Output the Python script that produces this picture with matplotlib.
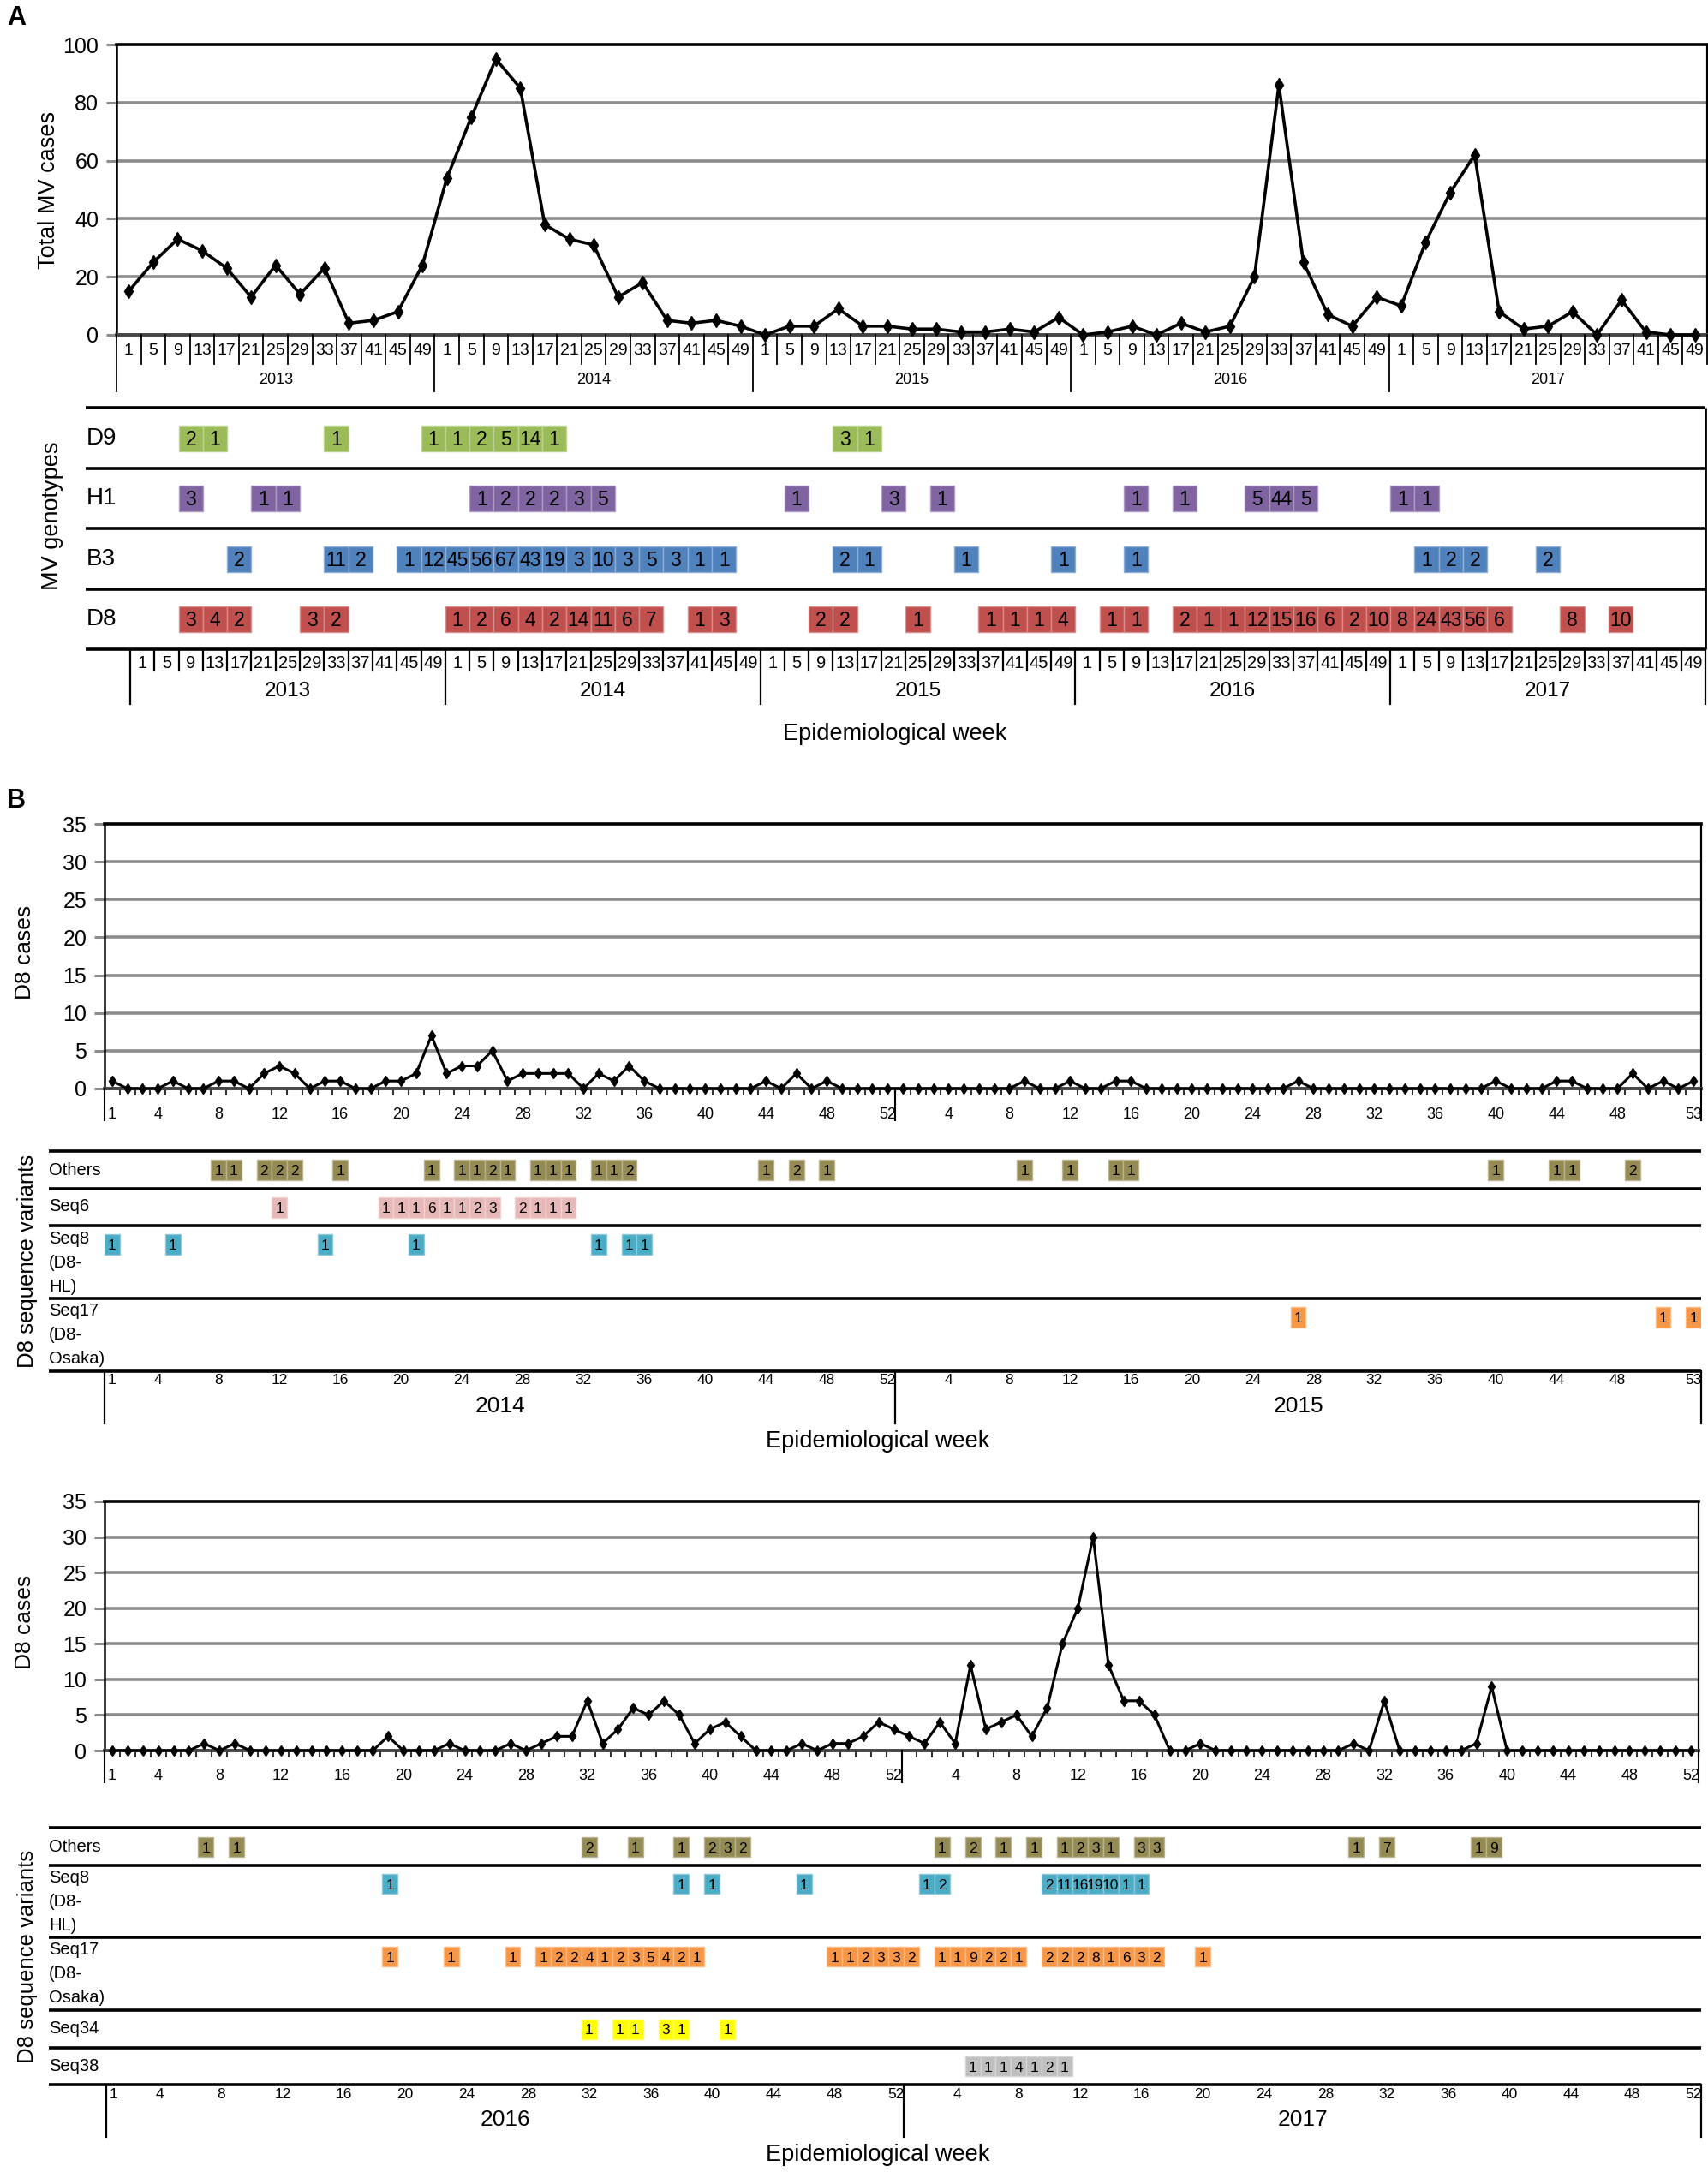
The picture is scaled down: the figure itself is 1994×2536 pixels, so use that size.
import numpy as np
import matplotlib
matplotlib.use("Agg")
import matplotlib.pyplot as plt
from matplotlib.patches import Rectangle
from matplotlib.lines import Line2D
from matplotlib.colors import to_rgb

plt.rcParams['font.family'] = ['Liberation Sans', 'DejaVu Sans']
NARROW = ['Liberation Sans Narrow', 'Liberation Sans', 'DejaVu Sans']

# ---------------- Panel A data ----------------
years_A = [2013, 2014, 2015, 2016, 2017]
weeks_A = [1, 5, 9, 13, 17, 21, 25, 29, 33, 37, 41, 45, 49]
total_2013 = [15, 25, 33, 29, 23, 13, 24, 14, 23, 4, 5, 8, 24]
total_2014 = [54, 75, 95, 85, 38, 33, 31, 13, 18, 5, 4, 5, 3]
total_2015 = [0, 3, 3, 9, 3, 3, 2, 2, 1, 1, 2, 1, 6]
total_2016 = [0, 1, 3, 0, 4, 1, 3, 20, 86, 25, 7, 3, 13]
total_2017 = [10, 32, 49, 62, 8, 2, 3, 8, 0, 12, 1, 0, 0]

genotype_names = ['D9', 'H1', 'B3', 'D8']
genotype_colors = ['#9BBB59', '#8064A2', '#4F81BD', '#C0504D']
# (year, week, number of cases)
gt_d9 = [(2013, 9, 2), (2013, 13, 1), (2013, 33, 1), (2013, 49, 1), (2014, 1, 1), (2014, 5, 2),
         (2014, 9, 5), (2014, 13, 14), (2014, 17, 1), (2015, 13, 3), (2015, 17, 1)]
gt_h1 = [(2013, 9, 3), (2013, 21, 1), (2013, 25, 1), (2014, 5, 1), (2014, 9, 2), (2014, 13, 2),
         (2014, 17, 2), (2014, 21, 3), (2014, 25, 5), (2015, 5, 1), (2015, 21, 3), (2015, 29, 1),
         (2016, 9, 1), (2016, 17, 1), (2016, 29, 5), (2016, 33, 44), (2016, 37, 5), (2017, 1, 1),
         (2017, 5, 1)]
gt_b3 = [(2013, 17, 2), (2013, 33, 11), (2013, 37, 2), (2013, 45, 1), (2013, 49, 12), (2014, 1, 45),
         (2014, 5, 56), (2014, 9, 67), (2014, 13, 43), (2014, 17, 19), (2014, 21, 3), (2014, 25, 10),
         (2014, 29, 3), (2014, 33, 5), (2014, 37, 3), (2014, 41, 1), (2014, 45, 1), (2015, 13, 2),
         (2015, 17, 1), (2015, 33, 1), (2015, 49, 1), (2016, 9, 1), (2017, 5, 1), (2017, 9, 2),
         (2017, 13, 2), (2017, 25, 2)]
gt_d8 = [(2013, 9, 3), (2013, 13, 4), (2013, 17, 2), (2013, 29, 3), (2013, 33, 2), (2014, 1, 1),
         (2014, 5, 2), (2014, 9, 6), (2014, 13, 4), (2014, 17, 2), (2014, 21, 14), (2014, 25, 11),
         (2014, 29, 6), (2014, 33, 7), (2014, 41, 1), (2014, 45, 3), (2015, 9, 2), (2015, 13, 2),
         (2015, 25, 1), (2015, 37, 1), (2015, 41, 1), (2015, 45, 1), (2015, 49, 4), (2016, 5, 1),
         (2016, 9, 1), (2016, 17, 2), (2016, 21, 1), (2016, 25, 1), (2016, 29, 12), (2016, 33, 15),
         (2016, 37, 16), (2016, 41, 6), (2016, 45, 2), (2016, 49, 10), (2017, 1, 8), (2017, 5, 24),
         (2017, 9, 43), (2017, 13, 56), (2017, 17, 6), (2017, 29, 8), (2017, 37, 10)]

# ---------------- Panel B data ----------------
b1_years = [2014, 2015]
b1_year_weeks = [52, 53]
d8_2014 = [1, 0, 0, 0, 1, 0, 0, 1, 1, 0, 2, 3, 2, 0, 1, 1, 0, 0, 1, 1,
           2, 7, 2, 3, 3, 5, 1, 2, 2, 2, 2, 0, 2, 1, 3, 1, 0, 0, 0, 0,
           0, 0, 0, 1, 0, 2, 0, 1, 0, 0, 0, 0]
d8_2015 = [0, 0, 0, 0, 0, 0, 0, 0, 1, 0, 0, 1, 0, 0, 1, 1, 0, 0, 0, 0,
           0, 0, 0, 0, 0, 0, 1, 0, 0, 0, 0, 0, 0, 0, 0, 0, 0, 0, 0, 1,
           0, 0, 0, 1, 1, 0, 0, 0, 2, 0, 1, 0, 1]
b1_ticks = [[1, 4, 8, 12, 16, 20, 24, 28, 32, 36, 40, 44, 48, 52],
            [4, 8, 12, 16, 20, 24, 28, 32, 36, 40, 44, 48, 53]]
b1_others = [(2014, 8, 1), (2014, 9, 1), (2014, 11, 2), (2014, 12, 2), (2014, 13, 2), (2014, 16, 1),
             (2014, 22, 1), (2014, 24, 1), (2014, 25, 1), (2014, 26, 2), (2014, 27, 1), (2014, 29, 1),
             (2014, 30, 1), (2014, 31, 1), (2014, 33, 1), (2014, 34, 1), (2014, 35, 2), (2014, 44, 1),
             (2014, 46, 2), (2014, 48, 1), (2015, 9, 1), (2015, 12, 1), (2015, 15, 1), (2015, 16, 1),
             (2015, 40, 1), (2015, 44, 1), (2015, 45, 1), (2015, 49, 2)]
b1_seq6 = [(2014, 12, 1), (2014, 19, 1), (2014, 20, 1), (2014, 21, 1), (2014, 22, 6), (2014, 23, 1),
           (2014, 24, 1), (2014, 25, 2), (2014, 26, 3), (2014, 28, 2), (2014, 29, 1), (2014, 30, 1),
           (2014, 31, 1)]
b1_seq8 = [(2014, 1, 1), (2014, 5, 1), (2014, 15, 1), (2014, 21, 1), (2014, 33, 1), (2014, 35, 1),
           (2014, 36, 1)]
b1_seq17 = [(2015, 27, 1), (2015, 51, 1), (2015, 53, 1)]

b2_years = [2016, 2017]
b2_year_weeks = [52, 52]
d8_2016 = [0, 0, 0, 0, 0, 0, 1, 0, 1, 0, 0, 0, 0, 0, 0, 0, 0, 0, 2, 0,
           0, 0, 1, 0, 0, 0, 1, 0, 1, 2, 2, 7, 1, 3, 6, 5, 7, 5, 1, 3,
           4, 2, 0, 0, 0, 1, 0, 1, 1, 2, 4, 3]
d8_2017 = [2, 1, 4, 1, 12, 3, 4, 5, 2, 6, 15, 20, 30, 12, 7, 7, 5, 0, 0, 1,
           0, 0, 0, 0, 0, 0, 0, 0, 0, 1, 0, 7, 0, 0, 0, 0, 0, 1, 9, 0,
           0, 0, 0, 0, 0, 0, 0, 0, 0, 0, 0, 0]
b2_ticks = [[1, 4, 8, 12, 16, 20, 24, 28, 32, 36, 40, 44, 48, 52],
            [4, 8, 12, 16, 20, 24, 28, 32, 36, 40, 44, 48, 52]]
b2_others = [(2016, 7, 1), (2016, 9, 1), (2016, 32, 2), (2016, 35, 1), (2016, 38, 1), (2016, 40, 2),
             (2016, 41, 3), (2016, 42, 2), (2017, 3, 1), (2017, 5, 2), (2017, 7, 1), (2017, 9, 1),
             (2017, 11, 1), (2017, 12, 2), (2017, 13, 3), (2017, 14, 1), (2017, 16, 3), (2017, 17, 3),
             (2017, 30, 1), (2017, 32, 7), (2017, 38, 1), (2017, 39, 9)]
b2_seq8 = [(2016, 19, 1), (2016, 38, 1), (2016, 40, 1), (2016, 46, 1), (2017, 2, 1), (2017, 3, 2),
           (2017, 10, 2), (2017, 11, 11), (2017, 12, 16), (2017, 13, 19), (2017, 14, 10), (2017, 15, 1),
           (2017, 16, 1)]
b2_seq17 = [(2016, 19, 1), (2016, 23, 1), (2016, 27, 1), (2016, 29, 1), (2016, 30, 2), (2016, 31, 2),
            (2016, 32, 4), (2016, 33, 1), (2016, 34, 2), (2016, 35, 3), (2016, 36, 5), (2016, 37, 4),
            (2016, 38, 2), (2016, 39, 1), (2016, 48, 1), (2016, 49, 1), (2016, 50, 2), (2016, 51, 3),
            (2016, 52, 3), (2017, 1, 2), (2017, 3, 1), (2017, 4, 1), (2017, 5, 9), (2017, 6, 2),
            (2017, 7, 2), (2017, 8, 1), (2017, 10, 2), (2017, 11, 2), (2017, 12, 2), (2017, 13, 8),
            (2017, 14, 1), (2017, 15, 6), (2017, 16, 3), (2017, 17, 2), (2017, 20, 1)]
b2_seq34 = [(2016, 32, 1), (2016, 34, 1), (2016, 35, 1), (2016, 37, 3), (2016, 38, 1), (2016, 41, 1)]
b2_seq38 = [(2017, 5, 1), (2017, 6, 1), (2017, 7, 1), (2017, 8, 4), (2017, 9, 1), (2017, 10, 2),
            (2017, 11, 1)]

variant_colors = {'Others': '#948A54', 'Seq6': '#E6B9B8', 'Seq8': '#4BACC6',
                  'Seq17': '#F79646', 'Seq34': '#FFFF00', 'Seq38': '#BFBFBF'}

# ---------------- Figure helpers ----------------
W, H = 1994, 2536
fig = plt.figure(figsize=(W / 100, H / 100), dpi=100)


def px_axes(x0, y0, x1, y1):
    return fig.add_axes([x0 / W, 1 - y1 / H, (x1 - x0) / W, (y1 - y0) / H])


def fline(x0, y0, x1, y1, lw=2.4, color='black'):
    fig.add_artist(Line2D([x0 / W, x1 / W], [1 - y0 / H, 1 - y1 / H], transform=fig.transFigure,
                          lw=lw, color=color, solid_capstyle='butt'))


def ftext(x, y, s, **kw):
    fig.text(x / W, 1 - y / H, s, **kw)


def lighten(c, f=0.35):
    r, g, b = to_rgb(c)
    return (r + (1 - r) * f, g + (1 - g) * f, b + (1 - b) * f)


def draw_cells(ax, idxs, counts, color, yc, h, fs):
    cap = 0.72 * fs * 100 / 72
    for i, c in zip(idxs, counts):
        ax.add_patch(Rectangle((i - 0.5, yc - h / 2), 1, h, facecolor=color,
                               edgecolor=lighten(color), lw=1.0, zorder=2))
        ax.text(i, yc + cap / 2, str(c), ha='center', va='baseline', fontsize=fs,
                family=NARROW, zorder=3)


def line_chart(ax, values, ymax, ystep, lw, ms, small_ticks):
    n = len(values)
    ax.set_xlim(-0.5, n - 0.5)
    ax.set_ylim(0, ymax)
    for yv in np.arange(ystep, ymax, ystep):
        ax.axhline(yv, color='#8c8c8c', lw=2.6, zorder=1)
    ax.plot(np.arange(n), values, color='black', lw=lw, marker='d', ms=ms,
            markeredgewidth=1, zorder=3, clip_on=False)
    ax.set_yticks(np.arange(0, ymax + 1, ystep))
    ax.tick_params(axis='y', length=9, width=2.2, color='#8c8c8c', labelsize=18, pad=6)
    if small_ticks:
        ax.set_xticks(np.arange(-0.5, n, 1))
        ax.tick_params(axis='x', length=6, width=1.5, color='#333333', labelbottom=False)
    else:
        ax.set_xticks([])
    ax.spines['top'].set_linewidth(2.6)
    ax.spines['left'].set_linewidth(1.8)
    ax.spines['right'].set_linewidth(1.6)
    ax.spines['bottom'].set_linewidth(2.8)
    ax.spines['bottom'].set_color('#444444')
    ax.set_facecolor('none')


# ================= Panel A =================
ftext(8, 6, 'A', fontsize=22, weight='bold', ha='left', va='top')

total_mv = total_2013 + total_2014 + total_2015 + total_2016 + total_2017
axA = px_axes(136, 52, 1993, 391)
line_chart(axA, total_mv, 100, 20, 2.6, 8, False)
ftext(57, 222, 'Total MV cases', rotation=90, fontsize=19.5, ha='center', va='center')

nA = len(years_A) * len(weeks_A)
axAs = px_axes(136, 391, 1993, 460)
axAs.set_xlim(-0.5, nA - 0.5)
axAs.set_ylim(460, 391)
axAs.axis('off')
for i in range(nA + 1):
    bot = 457 if (i % len(weeks_A) == 0 and i < nA) else 425
    axAs.plot([i - 0.5, i - 0.5], [391, bot], color='black', lw=1.3, clip_on=False)
for yi, yr in enumerate(years_A):
    for wi, wk in enumerate(weeks_A):
        axAs.text(yi * len(weeks_A) + wi, 410, str(wk), ha='center', va='center',
                  fontsize=14, family=NARROW)
    axAs.text(yi * len(weeks_A) + (len(weeks_A) - 1) / 2, 443, str(yr), ha='center',
              va='center', fontsize=13, family=NARROW)


def idx_A(year, week):
    return years_A.index(year) * len(weeks_A) + weeks_A.index(week)


axG = px_axes(152, 476, 1991, 870)
axG.set_xlim(-0.5, nA - 0.5)
axG.set_ylim(870, 476)
axG.axis('off')
for yline in [476, 547, 617, 688, 758]:
    fline(100, yline, 1991, yline, lw=2.6)
fline(1991, 476, 1991, 758, lw=2.0)
row_centers_G = [512, 582, 652.5, 723]
for name, col, data, yc in zip(genotype_names, genotype_colors, [gt_d9, gt_h1, gt_b3, gt_d8],
                               row_centers_G):
    ftext(101, yc, name, fontsize=20, ha='left', va='center')
    draw_cells(axG, [idx_A(y, w) for y, w, c in data], [c for y, w, c in data], col, yc, 30, 16.5)
for i in range(nA + 1):
    bot = 822 if i % len(weeks_A) == 0 else 783
    axG.plot([i - 0.5, i - 0.5], [758, bot], color='black', lw=1.6, clip_on=False)
for yi, yr in enumerate(years_A):
    for wi, wk in enumerate(weeks_A):
        axG.text(yi * len(weeks_A) + wi, 774, str(wk), ha='center', va='center',
                 fontsize=14.5, family=NARROW)
    axG.text(yi * len(weeks_A) + (len(weeks_A) - 1) / 2, 807, str(yr), ha='center',
             va='center', fontsize=17.5, family=NARROW)
ftext(1045, 857, 'Epidemiological week', fontsize=19.5, ha='center', va='center')
ftext(61, 602, 'MV genotypes', rotation=90, fontsize=19.5, ha='center', va='center')

# ================= Panel B =================
ftext(8, 920, 'B', fontsize=22, weight='bold', ha='left', va='top')


def idx_B(years, year_weeks, year, week):
    yi = years.index(year)
    return sum(year_weeks[:yi]) + week - 1


def b_block(values, years, year_weeks, ticks, rows, geo):
    n = len(values)
    # line chart
    ax = px_axes(*geo['line'])
    line_chart(ax, values, 35, 5, 2.2, 6.5, True)
    ftext(29, (geo['line'][1] + geo['line'][3]) / 2 - 5, 'D8 cases', rotation=90, fontsize=19,
          ha='center', va='center')
    # line chart week labels
    s0, s1 = geo['line'][3], geo['line'][3] + 60
    axs = px_axes(geo['line'][0], s0, geo['line'][2], s1)
    axs.set_xlim(-0.5, n - 0.5)
    axs.set_ylim(s1, s0)
    axs.axis('off')
    bounds = [-0.5] + list(np.cumsum(year_weeks) - 0.5)
    for b in bounds:
        axs.plot([b, b], [s0, s0 + 37], color='black', lw=1.5, clip_on=False)
    off = 0
    for labs, nw in zip(ticks, year_weeks):
        for w in labs:
            axs.text(off + w - 1, s0 + 30, str(w), ha='center', va='center', fontsize=13)
        off += nw
    # variant rows
    vx0, vtop, vx1, vbot = geo['var']
    axv = px_axes(vx0, vtop, vx1, vbot + 110)
    axv.set_xlim(-0.5, n - 0.5)
    axv.set_ylim(vbot + 110, vtop)
    axv.axis('off')
    for yline in geo['row_lines']:
        fline(57, yline, vx1, yline, lw=2.6)
    for (name, data), yc, lab_lines, lab_ys in zip(rows, geo['cell_y'], geo['labels'],
                                                   geo['label_y']):
        for t, ly in zip(lab_lines, lab_ys):
            ftext(57, ly, t, fontsize=14.5, ha='left', va='center')
        draw_cells(axv, [idx_B(years, year_weeks, y, w) for y, w, c in data],
                   [c for y, w, c in data], variant_colors[name], yc, geo['cell_h'], 12.5)
    for b in bounds:
        axv.plot([b, b], [vbot, vbot + 61], color='black', lw=1.6, clip_on=False)
    off = 0
    for labs, nw, yr in zip(ticks, year_weeks, years):
        for w in labs:
            axv.text(off + w - 1, vbot + 11, str(w), ha='center', va='center', fontsize=12.5,
                     family=NARROW)
        axv.text(off + (nw - 1) / 2, vbot + 41, str(yr), ha='center', va='center', fontsize=19,
                 family=NARROW)
        off += nw
    ftext(32, (geo['row_lines'][0] + geo['row_lines'][-1]) / 2, 'D8 sequence variants',
          rotation=90, fontsize=18.5, ha='center', va='center')
    ftext(1025, vbot + 82, 'Epidemiological week', fontsize=19.5, ha='center', va='center')


geo_b1 = dict(line=(122, 962, 1986, 1271), var=(122, 1344, 1986, 1601),
              row_lines=[1344, 1388, 1431, 1516, 1601], cell_y=[1366, 1410, 1453, 1538],
              cell_h=24,
              labels=[['Others'], ['Seq6'], ['Seq8', '(D8-', 'HL)'], ['Seq17', '(D8-', 'Osaka)']],
              label_y=[[1367], [1409], [1447, 1474, 1502], [1530, 1558, 1587]])
b_block(d8_2014 + d8_2015, b1_years, b1_year_weeks, b1_ticks,
        [('Others', b1_others), ('Seq6', b1_seq6), ('Seq8', b1_seq8), ('Seq17', b1_seq17)], geo_b1)

geo_b2 = dict(line=(122, 1753, 1983, 2044), var=(124, 2134, 1986, 2434),
              row_lines=[2134, 2178, 2262, 2347, 2391, 2434],
              cell_y=[2156.5, 2199.5, 2284.5, 2369, 2412.5], cell_h=23,
              labels=[['Others'], ['Seq8', '(D8-', 'HL)'], ['Seq17', '(D8-', 'Osaka)'], ['Seq34'],
                      ['Seq38']],
              label_y=[[2156], [2192, 2220, 2248], [2277, 2305, 2333], [2368], [2412]])
b_block(d8_2016 + d8_2017, b2_years, b2_year_weeks, b2_ticks,
        [('Others', b2_others), ('Seq8', b2_seq8), ('Seq17', b2_seq17), ('Seq34', b2_seq34),
         ('Seq38', b2_seq38)], geo_b2)

fig.savefig('out.png', dpi=100)
